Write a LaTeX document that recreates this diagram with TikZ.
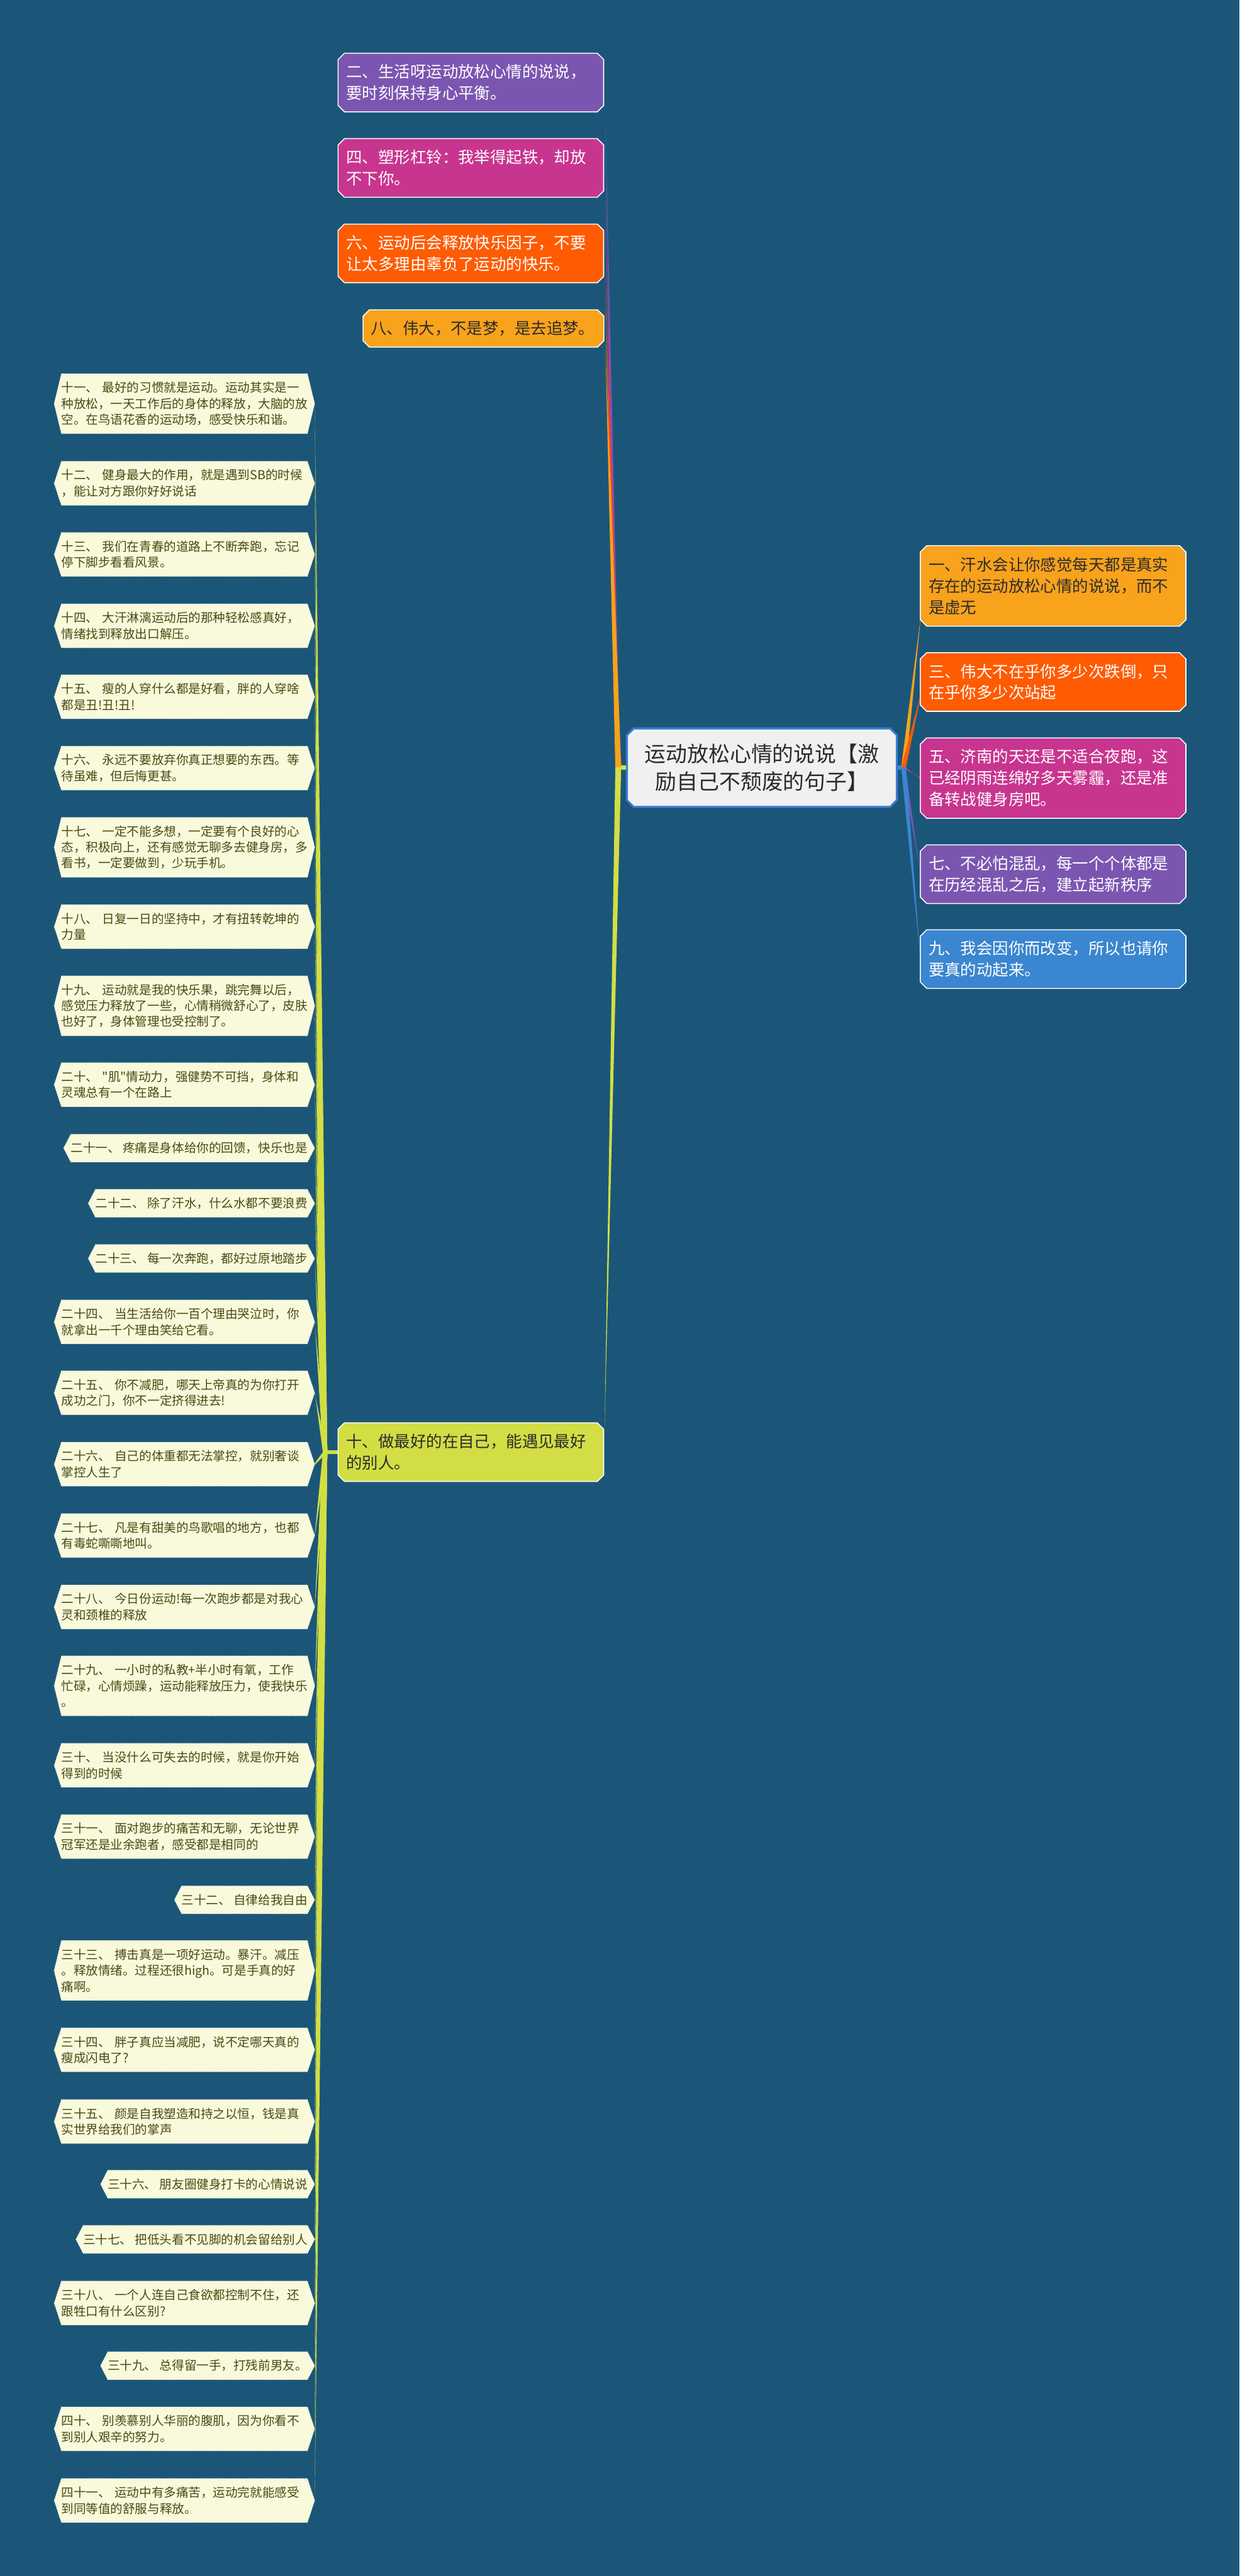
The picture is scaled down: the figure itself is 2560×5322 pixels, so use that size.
\documentclass[tikz,border=0pt]{standalone}
\usepackage{fontspec}
\newfontfamily\cjk{Noto Sans CJK SC}
\usetikzlibrary{calc}
\definecolor{bgc}{HTML}{1B5679}
\definecolor{cpur}{HTML}{7B56B1}
\definecolor{cmag}{HTML}{C8358F}
\definecolor{cred}{HTML}{FE5B02}
\definecolor{corg}{HTML}{F9A21C}
\definecolor{cgrn}{HTML}{D2DE44}
\definecolor{cblu}{HTML}{3A86D0}
\definecolor{ccrm}{HTML}{F9F9DC}
\definecolor{colv}{HTML}{4A4A12}
\definecolor{croot}{HTML}{F0F0F0}
\definecolor{crootb}{HTML}{3A7CD4}
\definecolor{cdark}{HTML}{2B2B2B}
\pgfdeclarelayer{bg}\pgfdeclarelayer{conn}\pgfdeclarelayer{shapes}
\pgfsetlayers{bg,conn,shapes,main}
\tikzset{
  every node/.style={inner sep=0pt, outer sep=0pt},
  leaf/.style={font={\cjk\fontsize{7.23pt}{9.39pt}\selectfont}, text=colv, align=left, anchor=east, minimum height=0.58cm},
  leafw/.style={leaf, text width=5.08cm},
  tbx/.style={font={\cjk\fontsize{9.39pt}{12.52pt}\selectfont}, align=left, text width=5.14cm, inner xsep=0.17cm},
}
\newcommand\octa[5]{%
  \begin{pgfonlayer}{shapes}
  \filldraw[fill=#2, draw=#3, line width=#5]
    ($(#1.north west)+(#4,0)$) -- ($(#1.north east)+(-#4,0)$) -- ($(#1.north east)+(0,#4)$)
    -- ($(#1.south east)+(0,-#4)$) -- ($(#1.south east)+(-#4,0)$) -- ($(#1.south west)+(#4,0)$)
    -- ($(#1.south west)+(0,-#4)$) -- ($(#1.north west)+(0,#4)$) -- cycle;
  \end{pgfonlayer}}
\newcommand\tbox[7]{%
  \node[tbx, text=#6, minimum height=#4*0.45cm+0.31cm] (#1) at (#2,#3) {#7};
  \octa{#1}{#5}{white}{13}{0.02cm}}
\newcommand\lshape[1]{%
  \begin{pgfonlayer}{shapes}
  \filldraw[fill=ccrm, draw=white!70!gray, densely dotted, line width=0.012cm]
    (#1.north west) -- (#1.north east) -- ($(#1.east)+(15,0)$) -- (#1.south east)
    -- (#1.south west) -- ($(#1.west)+(-15,0)$) -- cycle;
  \end{pgfonlayer}
  \begin{pgfonlayer}{conn}
  \fill[cgrn] ($(jB)+(-4.5,0)$) -- ($(#1.east)+(15,-1.8)$) -- ($(#1.east)+(15,1.8)$) -- ($(jB)+(4.5,0)$) -- cycle;
  \end{pgfonlayer}}
\newcommand\lone[3]{%
  \node[leaf] (#1) at (635,#2) {#3};
  \lshape{#1}}
\newcommand\lmulti[4]{%
  \node[leafw, minimum height=#3*0.33cm+0.25cm] (#1) at (635,#2) {#4};
  \lshape{#1}}
\newcommand\taper[4]{%
  \fill[#1] ($(#2)+(-#4,0)$) -- ($(#3)+(0,-1.6)$) -- ($(#3)+(0,1.6)$) -- ($(#2)+(#4,0)$) -- cycle;}

\begin{document}
\begin{tikzpicture}[x=0.01cm, y=-0.01cm]
\useasboundingbox (0,0) rectangle (2560,5322);
\begin{pgfonlayer}{bg}
\fill[bgc] (0,0) rectangle (2560,5322);
\end{pgfonlayer}

% root
\node[font={\cjk\fontsize{12.52pt}{16.5pt}\selectfont}, text=cdark, align=center,
      minimum width=5.57cm, minimum height=1.62cm] (root) at (1573.5,1586)
      {运动放松心情的说说【激\\励自己不颓废的句子】};
\octa{root}{croot}{crootb}{14}{0.04cm}

% right nodes
\tbox{n1}{2175}{1210.5}{3}{corg}{cdark}{一、汗水会让你感觉每天都是真实\\存在的运动放松心情的说说，而不\\是虚无}
\tbox{n3}{2175}{1409}{2}{cred}{white}{三、伟大不在乎你多少次跌倒，只\\在乎你多少次站起}
\tbox{n5}{2175}{1607.5}{3}{cmag}{white}{五、济南的天还是不适合夜跑，这\\已经阴雨连绵好多天雾霾，还是准\\备转战健身房吧。}
\tbox{n7}{2175}{1806}{2}{cpur}{white}{七、不必怕混乱，每一个个体都是\\在历经混乱之后，建立起新秩序}
\tbox{n9}{2175}{1981.5}{2}{cblu}{white}{九、我会因你而改变，所以也请你\\要真的动起来。}

% top-left nodes
\tbox{n2}{972.5}{170.5}{2}{cpur}{white}{二、生活呀运动放松心情的说说，\\要时刻保持身心平衡。}
\tbox{n4}{972.5}{347}{2}{cmag}{white}{四、塑形杠铃：我举得起铁，却放\\不下你。}
\tbox{n6}{972.5}{523.5}{2}{cred}{white}{六、运动后会释放快乐因子，不要\\让太多理由辜负了运动的快乐。}
\node[tbx, text width=4.65cm, inner xsep=0.16cm, text=cdark, minimum height=0.77cm] (n8) at (998.5,678.5) {八、伟大，不是梦，是去追梦。};
\octa{n8}{corg}{white}{13}{0.02cm}
\tbox{n10}{972.5}{3000}{2}{cgrn}{cdark}{十、做最好的在自己，能遇见最好\\的别人。}

\coordinate (jL) at ($(root.west)+(-18,-1)$);
\coordinate (jR) at ($(root.east)+(14,-1)$);
\coordinate (jB) at ($(n10.west)+(-27,0)$);
\coordinate (e2) at ($(n2.south east)+(3,-10)$);
\coordinate (e4) at ($(n4.south east)+(3,-10)$);
\coordinate (e6) at ($(n6.south east)+(3,-10)$);
\coordinate (e8) at ($(n8.south east)+(3,-6)$);
\coordinate (e10) at ($(n10.north east)+(2,8)$);
\coordinate (e1) at ($(n1.south west)+(0,-12)$);
\coordinate (e3) at ($(n3.south west)+(0,-30)$);

\begin{pgfonlayer}{conn}
\draw[cgrn, line width=0.09cm] (root.west) -- (jL);
\draw[cblu, line width=0.09cm] (root.east) -- (jR);
\draw[cgrn, line width=0.07cm] (n10.west) -- (jB);
\taper{cpur}{jL}{e2}{4}
\taper{cmag}{jL}{e4}{4}
\taper{cred}{jL}{e6}{5}
\taper{corg}{jL}{e8}{6}
\taper{cgrn}{jL}{e10}{6}
\taper{corg}{jR}{e1}{5}
\taper{cred}{jR}{e3}{5}
\taper{cmag}{jR}{n5.west}{4}
\taper{cpur}{jR}{n7.west}{4}
\taper{cblu}{jR}{n9.west}{5}
\end{pgfonlayer}

% left leaves
\lmulti{n11}{834}{3}{十一、 最好的习惯就是运动。运动其实是一\\种放松，一天工作后的身体的释放，大脑的放\\空。在鸟语花香的运动场，感受快乐和谐。}
\lmulti{n12}{998.5}{2}{十二、 健身最大的作用，就是遇到SB的时候\\，能让对方跟你好好说话}
\lmulti{n13}{1145.5}{2}{十三、 我们在青春的道路上不断奔跑，忘记\\停下脚步看看风景。}
\lmulti{n14}{1293}{2}{十四、 大汗淋漓运动后的那种轻松感真好，\\情绪找到释放出口解压。}
\lmulti{n15}{1439.5}{2}{十五、 瘦的人穿什么都是好看，胖的人穿啥\\都是丑!丑!丑!}
\lmulti{n16}{1587}{2}{十六、 永远不要放弃你真正想要的东西。等\\待虽难，但后悔更甚。}
\lmulti{n17}{1750.5}{3}{十七、 一定不能多想，一定要有个良好的心\\态，积极向上，还有感觉无聊多去健身房，多\\看书，一定要做到，少玩手机。}
\lmulti{n18}{1914.5}{2}{十八、 日复一日的坚持中，才有扭转乾坤的\\力量}
\lmulti{n19}{2078}{3}{十九、 运动就是我的快乐果，跳完舞以后，\\感觉压力释放了一些，心情稍微舒心了，皮肤\\也好了，身体管理也受控制了。}
\lmulti{n20}{2241}{2}{二十、 "肌"情动力，强健势不可挡，身体和\\灵魂总有一个在路上}
\lone{n21}{2372}{二十一、 疼痛是身体给你的回馈，快乐也是}
\lone{n22}{2486}{二十二、 除了汗水，什么水都不要浪费}
\lone{n23}{2600}{二十三、 每一次奔跑，都好过原地踏步}
\lmulti{n24}{2731}{2}{二十四、 当生活给你一百个理由哭泣时，你\\就拿出一千个理由笑给它看。}
\lmulti{n25}{2877.5}{2}{二十五、 你不减肥，哪天上帝真的为你打开\\成功之门，你不一定挤得进去!}
\lmulti{n26}{3025}{2}{二十六、 自己的体重都无法掌控，就别奢谈\\掌控人生了}
\lmulti{n27}{3172.5}{2}{二十七、 凡是有甜美的鸟歌唱的地方，也都\\有毒蛇嘶嘶地叫。}
\lmulti{n28}{3320}{2}{二十八、 今日份运动!每一次跑步都是对我心\\灵和颈椎的释放}
\lmulti{n29}{3483}{3}{二十九、 一小时的私教+半小时有氧，工作\\忙碌，心情烦躁，运动能释放压力，使我快乐\\。}
\lmulti{n30}{3647}{2}{三十、 当没什么可失去的时候，就是你开始\\得到的时候}
\lmulti{n31}{3794.5}{2}{三十一、 面对跑步的痛苦和无聊，无论世界\\冠军还是业余跑者，感受都是相同的}
\lone{n32}{3925}{三十二、 自律给我自由}
\lmulti{n33}{4071}{3}{三十三、 搏击真是一项好运动。暴汗。减压\\。释放情绪。过程还很high。可是手真的好\\痛啊。}
\lmulti{n34}{4235}{2}{三十四、 胖子真应当减肥，说不定哪天真的\\瘦成闪电了?}
\lmulti{n35}{4383}{2}{三十五、 颜是自我塑造和持之以恒，钱是真\\实世界给我们的掌声}
\lone{n36}{4512.5}{三十六、 朋友圈健身打卡的心情说说}
\lone{n37}{4626.5}{三十七、 把低头看不见脚的机会留给别人}
\lmulti{n38}{4758}{2}{三十八、 一个人连自己食欲都控制不住，还\\跟牲口有什么区别?}
\lone{n39}{4887.5}{三十九、 总得留一手，打残前男友。}
\lmulti{n40}{5018}{2}{四十、 别羡慕别人华丽的腹肌，因为你看不\\到别人艰辛的努力。}
\lmulti{n41}{5166}{2}{四十一、 运动中有多痛苦，运动完就能感受\\到同等值的舒服与释放。}
\end{tikzpicture}
\end{document}
